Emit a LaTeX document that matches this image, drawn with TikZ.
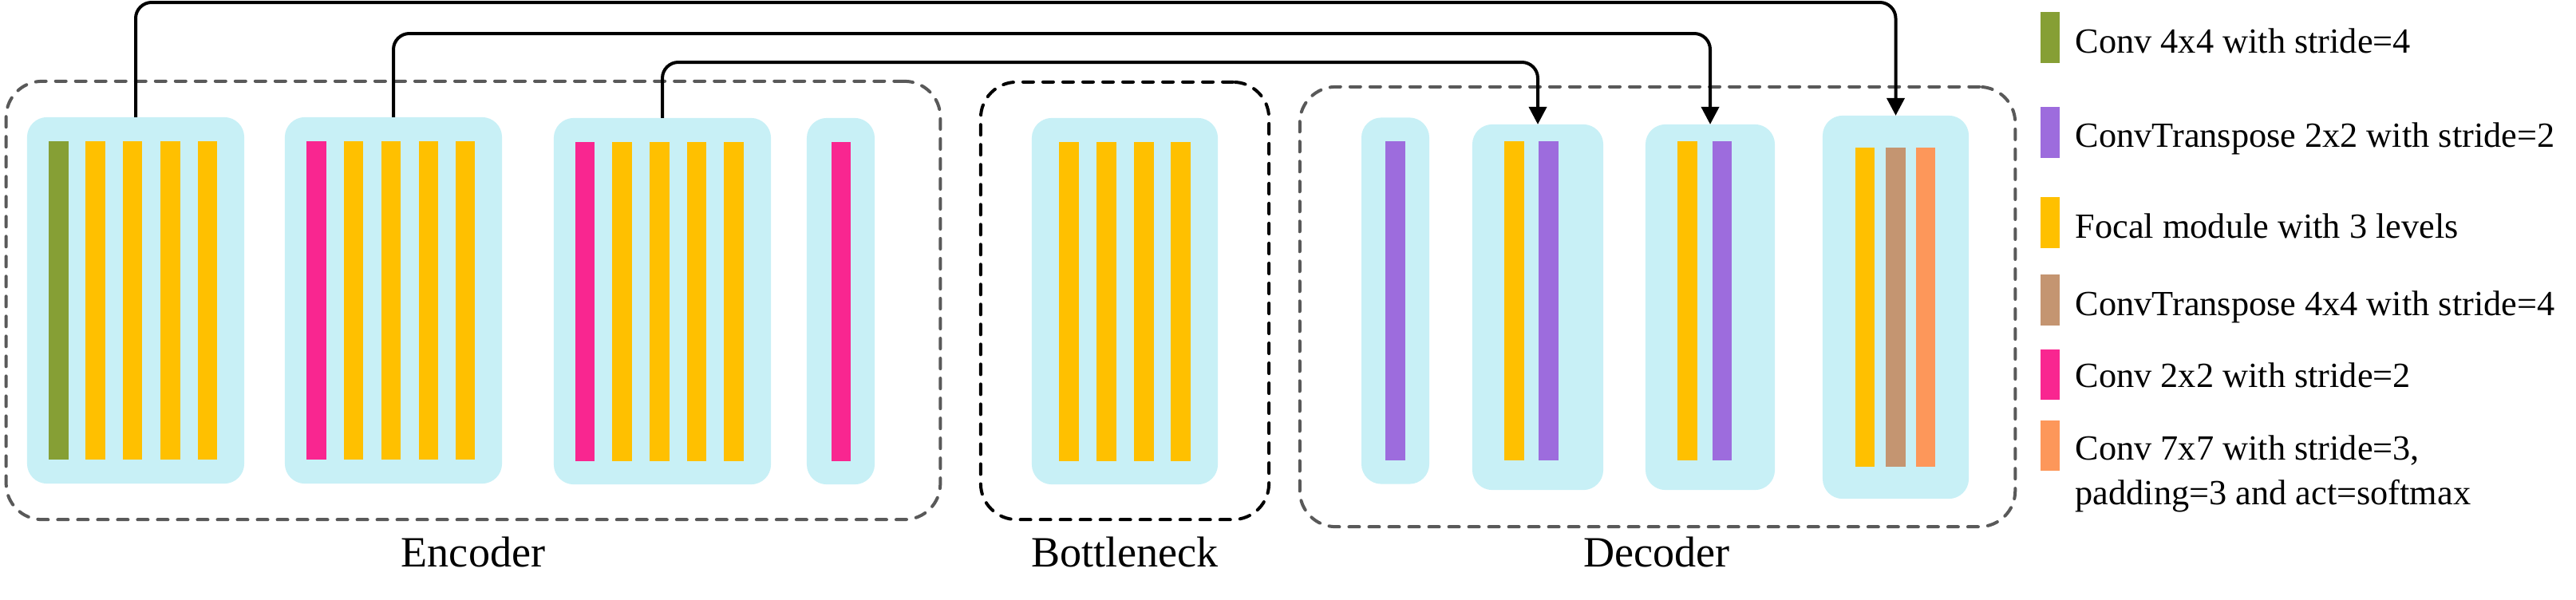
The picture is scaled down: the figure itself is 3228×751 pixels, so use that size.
\documentclass[tikz,border=0pt]{standalone}
\usepackage{fontspec}
\setmainfont{Liberation Serif}
\usetikzlibrary{arrows.meta}
\definecolor{cblock}{RGB}{200,240,246}
\definecolor{cgreen}{RGB}{134,159,53}
\definecolor{cyel}{RGB}{255,192,0}
\definecolor{cpink}{RGB}{249,38,144}
\definecolor{cpurp}{RGB}{157,108,221}
\definecolor{cbrown}{RGB}{196,149,113}
\definecolor{corange}{RGB}{253,151,90}
\definecolor{cdash}{RGB}{89,89,89}
\begin{document}
\begin{tikzpicture}[x=0.01cm,y=-0.01cm,
 blockbox/.style={draw=none, fill=cblock, rounded corners=0.25cm, inner sep=0, outer sep=0, minimum height=4.59cm},
 bar/.style={draw=none, inner sep=0, outer sep=0, minimum width=0.245cm, minimum height=3.99cm},
 groupbox/.style={dash pattern=on 0.13cm off 0.12cm, line cap=round, line width=0.04cm, rounded corners=0.45cm, inner sep=0, outer sep=0},
 skip/.style={line width=0.04cm, rounded corners=0.2cm, -{Triangle[length=0.22cm,width=0.22cm]}},
 grouplabel/.style={font=\fontsize{15.4}{18}\selectfont, anchor=base, inner sep=0},
 legtext/.style={font=\fontsize{12.6}{15.65}\selectfont, anchor=base west, inner sep=0, align=left},
 swatch/.style={draw=none, inner sep=0, outer sep=0, minimum width=0.24cm, minimum height=0.63cm}]
\useasboundingbox (0,0) rectangle (3228,751);

% group boxes
\node[groupbox, draw=cdash, minimum width=11.7cm, minimum height=5.49cm] (enc) at (593,376.5) {};
\node[groupbox, draw=black, minimum width=3.61cm, minimum height=5.48cm] (bot) at (1409.5,377) {};
\node[groupbox, draw=cdash, minimum width=8.96cm, minimum height=5.51cm] (dec) at (2077,384.5) {};

% blocks
\node[blockbox, minimum width=2.72cm] (e1) at (170,376.5) {};
\node[blockbox, minimum width=2.72cm] (e2) at (493,376.5) {};
\node[blockbox, minimum width=2.72cm] (e3) at (830,377.5) {};
\node[blockbox, minimum width=0.85cm] (e4) at (1053.5,377.5) {};
\node[blockbox, minimum width=2.33cm] (b1) at (1409.5,377.5) {};
\node[blockbox, minimum width=0.85cm] (d1) at (1748.5,377) {};
\node[blockbox, minimum width=1.64cm, minimum height=4.58cm] (d2) at (1927,385) {};
\node[blockbox, minimum width=1.62cm, minimum height=4.58cm] (d3) at (2143,385) {};
\node[blockbox, minimum width=1.83cm, minimum height=4.80cm] (d4) at (2375.5,385) {};

% encoder bars
\node[bar, fill=cgreen] (e1a) at (73.5,376.5) {};
\node[bar, fill=cyel] (e1b) at (119.5,376.5) {};
\node[bar, fill=cyel] (e1c) at (166,376.5) {};
\node[bar, fill=cyel] (e1d) at (213.5,376.5) {};
\node[bar, fill=cyel] (e1e) at (260,376.5) {};
\node[bar, fill=cpink] (e2a) at (396.5,376.5) {};
\node[bar, fill=cyel] (e2b) at (443,376.5) {};
\node[bar, fill=cyel] (e2c) at (490,376.5) {};
\node[bar, fill=cyel] (e2d) at (537,376.5) {};
\node[bar, fill=cyel] (e2e) at (583,376.5) {};
\node[bar, fill=cpink] (e3a) at (733,378) {};
\node[bar, fill=cyel] (e3b) at (779.5,378) {};
\node[bar, fill=cyel] (e3c) at (826.5,378) {};
\node[bar, fill=cyel] (e3d) at (873,378) {};
\node[bar, fill=cyel] (e3e) at (919.5,378) {};
\node[bar, fill=cpink] (e4a) at (1054,378) {};
% bottleneck bars
\node[bar, fill=cyel] (b1a) at (1339.5,378) {};
\node[bar, fill=cyel] (b1b) at (1386.5,378) {};
\node[bar, fill=cyel] (b1c) at (1433.5,378) {};
\node[bar, fill=cyel] (b1d) at (1479.5,378) {};
% decoder bars
\node[bar, fill=cpurp] (d1a) at (1748.5,377) {};
\node[bar, fill=cyel] (d2a) at (1897.5,377) {};
\node[bar, fill=cpurp] (d2b) at (1940.5,377) {};
\node[bar, fill=cyel] (d3a) at (2114.5,377) {};
\node[bar, fill=cpurp] (d3b) at (2158,377) {};
\node[bar, fill=cyel] (d4a) at (2337,385) {};
\node[bar, fill=cbrown] (d4b) at (2375.5,385) {};
\node[bar, fill=corange] (d4c) at (2413,385) {};

% skip connections
\coordinate (t1) at (0,3);
\coordinate (t2) at (0,42);
\coordinate (t3) at (0,78);
\draw[skip] (e1.north) -- (e1.north |- t1) -| (d4.north);
\draw[skip] (e2.north) -- (e2.north |- t2) -| (d3.north);
\draw[skip] (e3.north) -- (e3.north |- t3) -| (d2.north);

% group labels
\node[grouplabel] (encl) at (593,710) {Encoder};
\node[grouplabel] (botl) at (1409.5,710) {Bottleneck};
\node[grouplabel] (decl) at (2076,710) {Decoder};

% legend
\node[swatch, fill=cgreen] (s1) at (2569,47) {};
\node[swatch, fill=cpurp] (s2) at (2569,166) {};
\node[swatch, fill=cyel] (s3) at (2569,279) {};
\node[swatch, fill=cbrown] (s4) at (2569,376) {};
\node[swatch, fill=cpink] (s5) at (2569,469.5) {};
\node[swatch, fill=corange] (s6) at (2569,558.5) {};
\node[legtext] (l1) at (2600,66) {Conv 4x4 with stride=4};
\node[legtext] (l2) at (2600,184) {ConvTranspose 2x2 with stride=2};
\node[legtext] (l3) at (2600,298) {Focal module with 3 levels};
\node[legtext] (l4) at (2600,395) {ConvTranspose 4x4 with stride=4};
\node[legtext] (l5) at (2600,485) {Conv 2x2 with stride=2};
\node[legtext] (l6) at (2600,632) {Conv 7x7 with stride=3,\\padding=3 and act=softmax};
\end{tikzpicture}
\end{document}
